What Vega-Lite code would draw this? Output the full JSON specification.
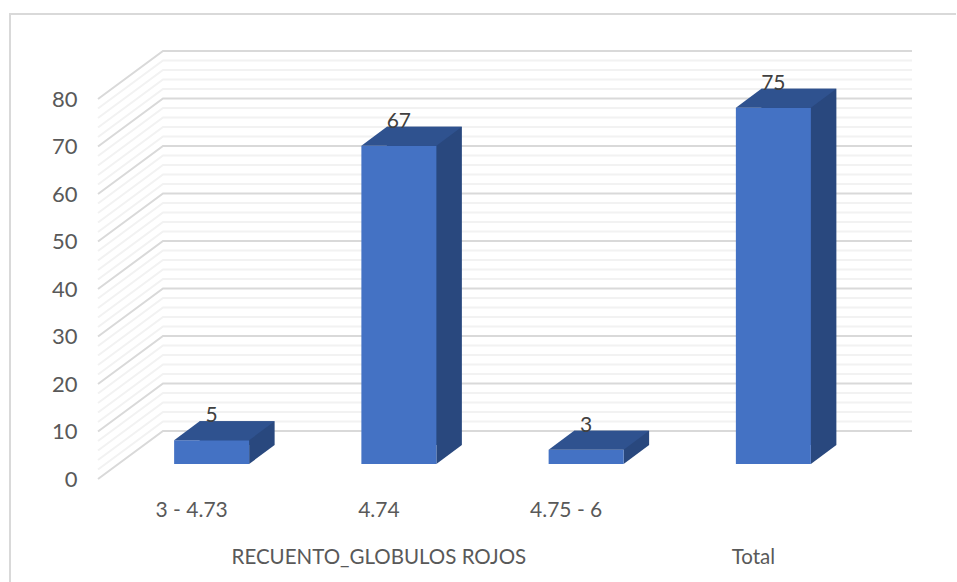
{
"$schema":"https://vega.github.io/schema/vega-lite/v6.json",
"width":749,"height":380,
"autosize":{"type":"none"},
"padding":{"left":98,"top":99,"right":110,"bottom":103},
"background":"white",
"config":{"view":{"stroke":null},"font":"Lato"},
"datasets":{
"bars":[{"categoria":"3 - 4.73","valor":5},{"categoria":"4.74","valor":67},{"categoria":"4.75 - 6","valor":3},{"categoria":"Total","valor":75}],
"major":[{"tick":0},{"tick":10},{"tick":20},{"tick":30},{"tick":40},{"tick":50},{"tick":60},{"tick":70},{"tick":80}],
"minor":[{"tick":2},{"tick":4},{"tick":6},{"tick":8},{"tick":12},{"tick":14},{"tick":16},{"tick":18},{"tick":22},{"tick":24},{"tick":26},{"tick":28},{"tick":32},{"tick":34},{"tick":36},{"tick":38},{"tick":42},{"tick":44},{"tick":46},{"tick":48},{"tick":52},{"tick":54},{"tick":56},{"tick":58},{"tick":62},{"tick":64},{"tick":66},{"tick":68},{"tick":72},{"tick":74},{"tick":76},{"tick":78}],
"titulos":[{"categoria":"4.74","texto":"RECUENTO_GLOBULOS ROJOS"},{"categoria":"Total","texto":"Total"}]
},
"layer":[
{"data":{"name":"minor"},"mark":{"type":"point","shape":"M0 0L65 -48L814 -48","size":4,"filled":false,"stroke":"#F2F2F2","strokeWidth":2,"opacity":1},
 "encoding":{"y":{"field":"tick","type":"quantitative","scale":{"domain":[0,80],"nice":false},
   "axis":{"values":[0,10,20,30,40,50,60,70,80],"grid":false,"domain":false,"ticks":false,"title":null,"labelPadding":21,"labelFontSize":22,"labelColor":"#595959","labelFont":"Lato"}},
   "x":{"datum":"3 - 4.73","type":"nominal","bandPosition":0,"scale":{"type":"band","domain":["3 - 4.73","4.74","4.75 - 6","Total"],"paddingInner":0,"paddingOuter":0},
   "axis":{"bandPosition":0.5,"labelExpr":"datum.label == 'Total' ? '' : datum.label","domain":false,"ticks":false,"title":null,"labelAngle":0,"labelPadding":20,"labelFontSize":21,"labelColor":"#595959","labelFont":"Lato"}}}},
{"data":{"name":"major"},"mark":{"type":"point","shape":"M0 0L65 -48L814 -48","size":4,"filled":false,"stroke":"#D9D9D9","strokeWidth":2,"opacity":1},
 "encoding":{"y":{"field":"tick","type":"quantitative"},"x":{"datum":"3 - 4.73","type":"nominal","bandPosition":0}}},
{"data":{"values":[{"ancla":0}]},"mark":{"type":"point","shape":"M-88 110L-88 -465L858 -465","size":4,"filled":false,"stroke":"#D9D9D9","strokeWidth":2,"opacity":1,"clip":false},
 "encoding":{"y":{"field":"ancla","type":"quantitative"},"x":{"datum":"3 - 4.73","type":"nominal","bandPosition":0}}},
{"data":{"name":"bars"},"mark":{"type":"bar","size":75,"fill":"#29487E","xOffset":45.5,"x2Offset":45.5,"yOffset":-34,"y2Offset":-34},
 "encoding":{"x":{"field":"categoria","type":"nominal"},"y":{"field":"valor","type":"quantitative"}}},
{"data":{"name":"bars"},"mark":{"type":"point","shape":"M37.5 -15L63 -34L37.5 -34Z","size":4,"filled":true,"fill":"#29487E","opacity":1,"xOffset":20},
 "encoding":{"x":{"field":"categoria","type":"nominal"},"y":{"datum":0,"type":"quantitative"}}},
{"data":{"name":"bars"},"mark":{"type":"bar","size":75,"fill":"#4472C4","xOffset":20,"x2Offset":20,"yOffset":-15,"y2Offset":-15},
 "encoding":{"x":{"field":"categoria","type":"nominal"},"y":{"field":"valor","type":"quantitative"}}},
{"data":{"name":"bars"},"mark":{"type":"point","shape":"M-37.5 0L37.5 0L63 -19L-12 -19Z","size":4,"filled":true,"fill":"#2F528F","opacity":1,"xOffset":20,"yOffset":-15},
 "encoding":{"x":{"field":"categoria","type":"nominal"},"y":{"field":"valor","type":"quantitative"}}},
{"data":{"name":"bars"},"mark":{"type":"text","fontSize":21,"font":"Lato","color":"#404040","xOffset":20,"yOffset":-39},
 "encoding":{"x":{"field":"categoria","type":"nominal"},"y":{"field":"valor","type":"quantitative"},"text":{"field":"valor","type":"quantitative"}}},
{"data":{"name":"titulos"},"mark":{"type":"text","fontSize":20.5,"font":"Lato","color":"#595959","yOffset":79},
 "encoding":{"x":{"field":"categoria","type":"nominal"},"y":{"datum":0,"type":"quantitative"},"text":{"field":"texto","type":"nominal"}}}
]
}
